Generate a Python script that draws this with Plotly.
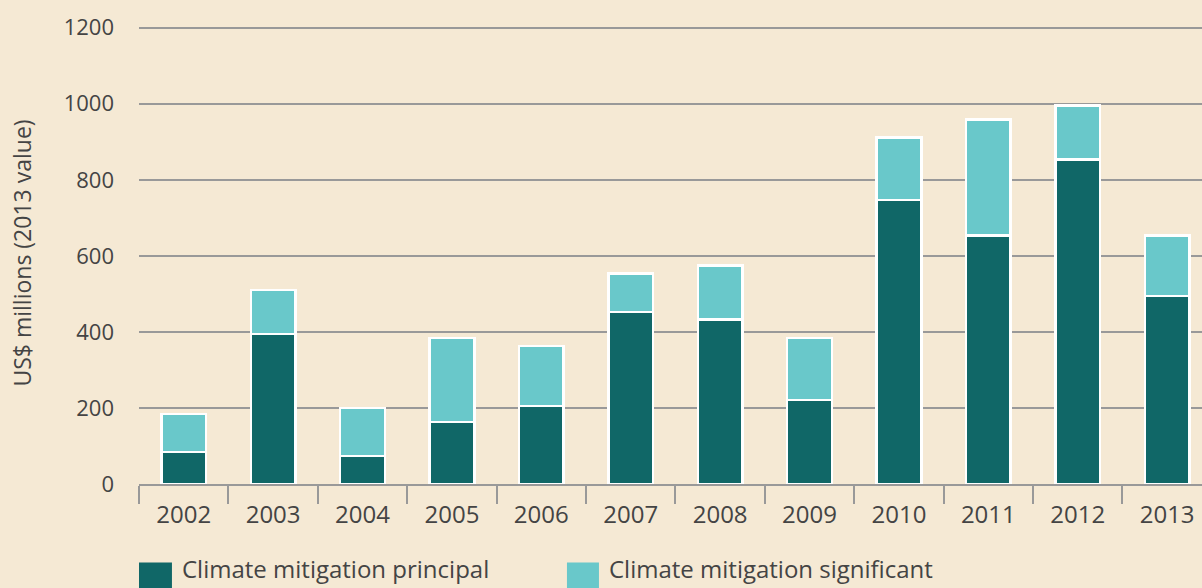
import plotly.graph_objects as go

years = ["2002", "2003", "2004", "2005", "2006", "2007", "2008", "2009", "2010", "2011", "2012", "2013"]
principal = [84, 395, 74, 163, 205, 453, 432, 221, 747, 653, 853, 495]
significant = [100, 115, 126, 221, 158, 100, 142, 163, 164, 305, 142, 158]
y_ticks = [0, 200, 400, 600, 800, 1000, 1200]
series_names = ["Climate mitigation principal", "Climate mitigation significant"]
colors = ["#106767", "#69C8CA"]

BG = "#F5E9D4"
TXT = "#444444"
FONT = "Open Sans"

fig = go.Figure()
fig.add_trace(go.Bar(x=years, y=principal, name=series_names[0], width=0.5,
                     marker=dict(color=colors[0], line=dict(color="white", width=2.5)),
                     showlegend=False))
fig.add_trace(go.Bar(x=years, y=significant, name=series_names[1], width=0.5,
                     marker=dict(color=colors[1], line=dict(color="white", width=2.5)),
                     showlegend=False))

fig.update_layout(
    barmode="stack",
    width=1202, height=588,
    paper_bgcolor=BG, plot_bgcolor=BG,
    margin=dict(l=139, r=0, t=22, b=104),
    font=dict(family=FONT, color=TXT, size=20),
    xaxis=dict(type="category", range=[-0.5, 11.39], tickson="boundaries",
               ticks="outside", ticklen=18, tickwidth=2, tickcolor="#999999",
               showline=True, linecolor="#999999", linewidth=2,
               showgrid=False, ticklabelstandoff=8, tickfont=dict(size=24, color=TXT)),
    yaxis=dict(range=[0, 1215], tickvals=y_ticks, showgrid=True, gridcolor="#999999",
               gridwidth=2, zeroline=False, showline=False, ticks="",
               ticklabelstandoff=24, tickfont=dict(size=22, color=TXT),
               title=dict(text="US$ millions (2013 value)", standoff=25,
                          font=dict(size=23, color=TXT))),
)

# Legend drawn below the plot
legend_pos = [(0.0, 0.031), (0.4026, 0.4327)]
for (x0, x1), name, col in zip(legend_pos, series_names, colors):
    fig.add_shape(type="rect", xref="paper", yref="paper", x0=x0, x1=x1,
                  y0=-0.23, y1=-0.17, fillcolor=col, line=dict(width=0))
    fig.add_annotation(xref="paper", yref="paper", x=x1 + 0.008, y=-0.2225,
                       xanchor="left", yanchor="bottom", text=name, showarrow=False,
                       font=dict(size=24, color=TXT, family=FONT))

fig.write_html("out.html", config={"displayModeBar": False},
               post_script="document.body.style.margin='0';")
